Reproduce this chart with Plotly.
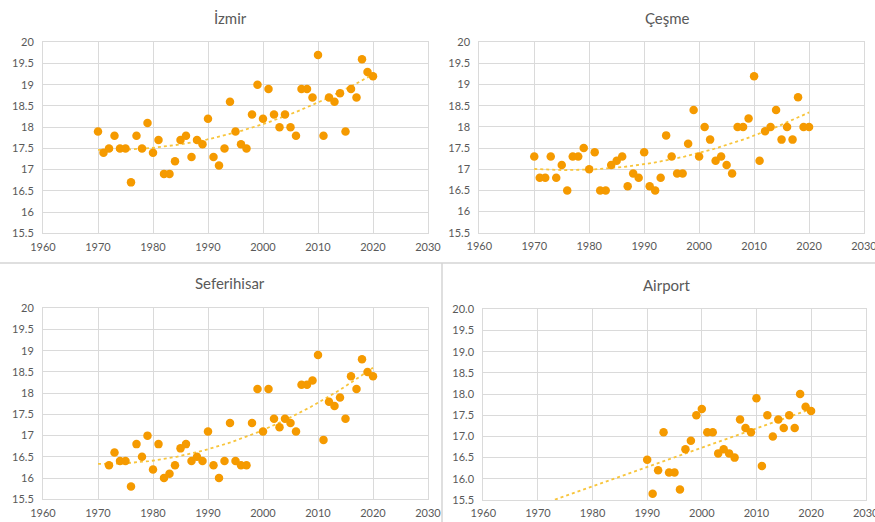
import numpy as np
import plotly.graph_objects as go

W, H = 875, 522

years_full = list(range(1970, 2021))
izmir = [17.9, 17.4, 17.5, 17.8, 17.5, 17.5, 16.7, 17.8, 17.5, 18.1,
         17.4, 17.7, 16.9, 16.9, 17.2, 17.7, 17.8, 17.3, 17.7, 17.6,
         18.2, 17.3, 17.1, 17.5, 18.6, 17.9, 17.6, 17.5, 18.3, 19.0,
         18.2, 18.9, 18.3, 18.0, 18.3, 18.0, 17.8, 18.9, 18.9, 18.7,
         19.7, 17.8, 18.7, 18.6, 18.8, 17.9, 18.9, 18.7, 19.6, 19.3, 19.2]
cesme = [17.3, 16.8, 16.8, 17.3, 16.8, 17.1, 16.5, 17.3, 17.3, 17.5,
         17.0, 17.4, 16.5, 16.5, 17.1, 17.2, 17.3, 16.6, 16.9, 16.8,
         17.4, 16.6, 16.5, 16.8, 17.8, 17.3, 16.9, 16.9, 17.6, 18.4,
         17.3, 18.0, 17.7, 17.2, 17.3, 17.1, 16.9, 18.0, 18.0, 18.2,
         19.2, 17.2, 17.9, 18.0, 18.4, 17.7, 18.0, 17.7, 18.7, 18.0, 18.0]
years_sef = list(range(1972, 2021))
seferihisar = [16.3, 16.6, 16.4, 16.4, 15.8, 16.8, 16.5, 17.0,
               16.2, 16.8, 16.0, 16.1, 16.3, 16.7, 16.8, 16.4, 16.5, 16.4,
               17.1, 16.3, 16.0, 16.4, 17.3, 16.4, 16.3, 16.3, 17.3, 18.1,
               17.1, 18.1, 17.4, 17.2, 17.4, 17.3, 17.1, 18.2, 18.2, 18.3,
               18.9, 16.9, 17.8, 17.7, 17.9, 17.4, 18.4, 18.1, 18.8, 18.5, 18.4]
years_air = list(range(1990, 2021))
airport = [16.45, 15.65, 16.2, 17.1, 16.15, 16.15, 15.75, 16.7, 16.9, 17.5,
           17.65, 17.1, 17.1, 16.6, 16.7, 16.6, 16.5, 17.4, 17.2, 17.1,
           17.9, 16.3, 17.5, 17.0, 17.4, 17.2, 17.5, 17.2, 18.0, 17.7, 17.6]

titles = ["İzmir", "Çeşme", "Seferihisar", "Airport"]
x_ticks = [1960, 1970, 1980, 1990, 2000, 2010, 2020, 2030]
y_ticks = [15.5, 16, 16.5, 17, 17.5, 18, 18.5, 19, 19.5, 20]
y_labels_std = ["15.5", "16", "16.5", "17", "17.5", "18", "18.5", "19", "19.5", "20"]
y_labels_air = ["15.5", "16.0", "16.5", "17.0", "17.5", "18.0", "18.5", "19.0", "19.5", "20.0"]

MARKER = "#F59A00"
TREND = "#F8C53C"
GRID = "#DADADA"
TXT = "#595959"
FONT = "Lato, 'Open Sans', sans-serif"

# panel pixel boxes: (x0, x1, ytop, ybottom)
boxes = [(43, 428, 42.3, 233.3), (479.3, 864, 42.3, 232.7),
         (43, 428, 308.3, 499.3), (483.3, 865.7, 309.3, 500)]
title_pos = [(230, 18), (667, 18), (230, 283), (667, 285)]

series = [(years_full, izmir, 2, 1970, 2020),
          (years_full, cesme, 2, 1970, 2020),
          (years_sef, seferihisar, 2, 1970, 2020),
          (years_air, airport, 1, 1970, 2020)]

fig = go.Figure()
for i, (xs, ys, order, t0, t1) in enumerate(series):
    n = i + 1
    xa = "x" if n == 1 else f"x{n}"
    ya = "y" if n == 1 else f"y{n}"
    coef = np.polyfit(np.array(xs, float), np.array(ys, float), order)
    tx = np.linspace(t0, t1, 120)
    ty = np.polyval(coef, tx)
    fig.add_trace(go.Scatter(x=tx, y=ty, mode="lines", xaxis=xa, yaxis=ya,
                             line=dict(color=TREND, width=1.8, dash="dot"),
                             hoverinfo="skip", showlegend=False, cliponaxis=True))
    fig.add_trace(go.Scatter(x=xs, y=ys, mode="markers", xaxis=xa, yaxis=ya,
                             marker=dict(color=MARKER, size=8.5, line=dict(width=0)),
                             showlegend=False))
    x0, x1, yt, yb = boxes[i]
    suffix = "" if n == 1 else str(n)
    fig.layout["xaxis" + suffix] = dict(
        domain=[x0 / W, x1 / W], range=[1960, 2030], anchor=ya, automargin=False,
        tickvals=x_ticks, ticktext=[str(v) for v in x_ticks], ticklabeloverflow="allow",
        showgrid=True, gridcolor=GRID, gridwidth=1, zeroline=False,
        showline=True, linecolor=GRID, linewidth=1, mirror=True,
        ticks="outside", ticklen=3, tickcolor="rgba(0,0,0,0)",
        tickfont=dict(family=FONT, size=11, color=TXT), fixedrange=True)
    fig.layout["yaxis" + suffix] = dict(
        domain=[1 - yb / H, 1 - yt / H], range=[15.5, 20], anchor=xa, automargin=False,
        tickvals=y_ticks, ticktext=(y_labels_air if n == 4 else y_labels_std),
        ticklabeloverflow="allow",
        showgrid=True, gridcolor=GRID, gridwidth=1, zeroline=False,
        showline=True, linecolor=GRID, linewidth=1, mirror=True,
        ticks="outside", ticklen=6, tickcolor="rgba(0,0,0,0)",
        tickfont=dict(family=FONT, size=11, color=TXT), fixedrange=True)
    tx_, ty_ = title_pos[i]
    fig.add_annotation(text=titles[i], x=tx_ / W, y=1 - ty_ / H, xref="paper", yref="paper",
                       showarrow=False, xanchor="center", yanchor="middle",
                       font=dict(family=FONT, size=15, color=TXT))

# panel separator lines
fig.add_shape(type="line", xref="paper", yref="paper", x0=0, x1=1,
              y0=1 - 263 / H, y1=1 - 263 / H, line=dict(color="#D4D4D4", width=1.5))
fig.add_shape(type="line", xref="paper", yref="paper", x0=442 / W, x1=442 / W,
              y0=0, y1=1 - 263 / H, line=dict(color="#D4D4D4", width=1.5))

fig.update_layout(width=W, height=H, margin=dict(l=0, r=0, t=0, b=0, autoexpand=False),
                  paper_bgcolor="white", plot_bgcolor="white",
                  font=dict(family=FONT, color=TXT))
fig.write_html("out.html", config={"displayModeBar": False, "staticPlot": True},
               post_script="document.body.style.margin='0';document.body.style.overflow='hidden';")
